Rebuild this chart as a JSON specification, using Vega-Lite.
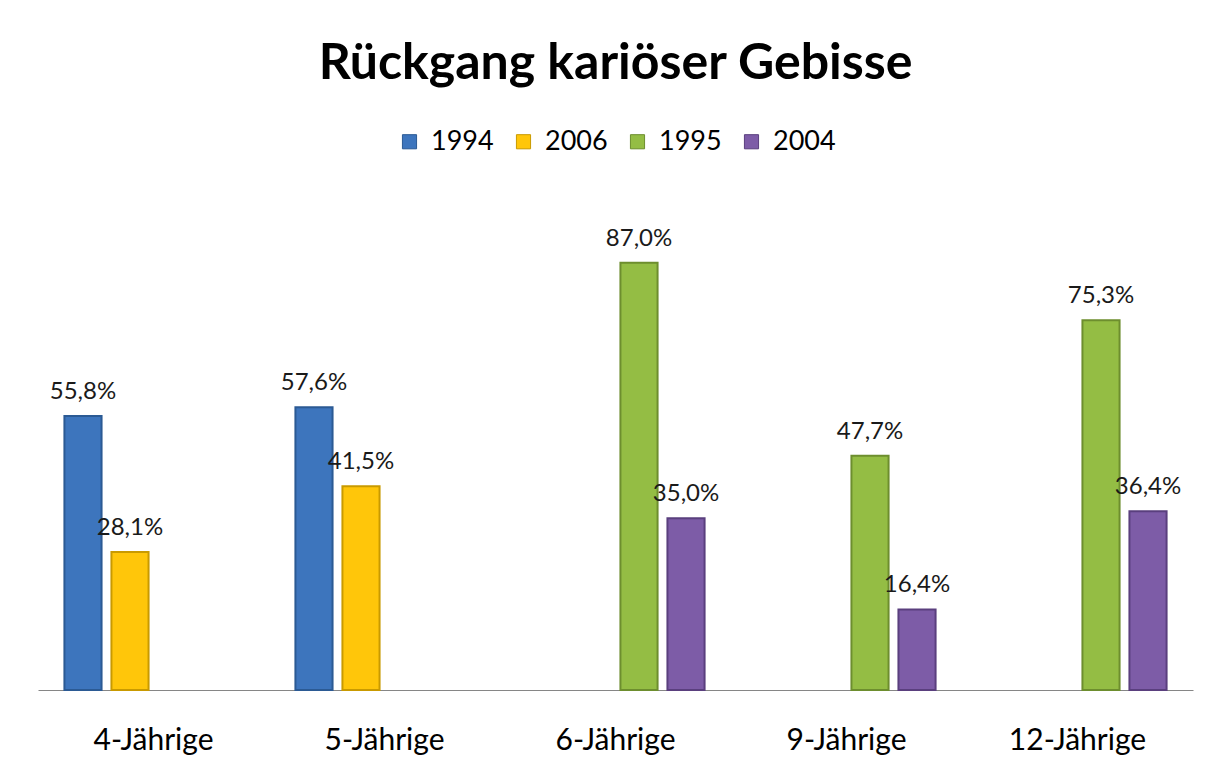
{
  "$schema": "https://vega.github.io/schema/vega-lite/v6.json",
  "autosize": {"type": "none"},
  "width": 1155,
  "height": 491,
  "padding": {"left": 38, "top": 199, "right": 25, "bottom": 91},
  "background": "white",
  "title": {
    "text": "Rückgang kariöser Gebisse",
    "font": "Lato",
    "fontSize": 50,
    "fontWeight": "bold",
    "color": "#000000",
    "anchor": "middle",
    "baseline": "alphabetic",
    "offset": -1
  },
  "config": {
    "locale": {"number": {"decimal": ",", "thousands": ".", "grouping": [3], "currency": ["", " €"]}},
    "view": {"stroke": null},
    "font": "Lato"
  },
  "data": {
    "values": [
      {"group": "4-Jährige", "year": "1994", "value": 0.558},
      {"group": "4-Jährige", "year": "2006", "value": 0.281},
      {"group": "5-Jährige", "year": "1994", "value": 0.576},
      {"group": "5-Jährige", "year": "2006", "value": 0.415},
      {"group": "6-Jährige", "year": "1995", "value": 0.870},
      {"group": "6-Jährige", "year": "2004", "value": 0.350},
      {"group": "9-Jährige", "year": "1995", "value": 0.477},
      {"group": "9-Jährige", "year": "2004", "value": 0.164},
      {"group": "12-Jährige", "year": "1995", "value": 0.753},
      {"group": "12-Jährige", "year": "2004", "value": 0.364}
    ]
  },
  "encoding": {
    "x": {
      "field": "group",
      "type": "nominal",
      "sort": ["4-Jährige", "5-Jährige", "6-Jährige", "9-Jährige", "12-Jährige"],
      "scale": {"paddingInner": 0.186, "paddingOuter": 0.093},
      "axis": {
        "title": null,
        "labelAngle": 0,
        "labelFont": "Lato",
        "labelFontSize": 30,
        "labelColor": "#000000",
        "labelBaseline": "alphabetic",
        "labelPadding": 59,
        "ticks": false,
        "tickSize": 0,
        "domainColor": "#868686",
        "domainWidth": 1,
        "grid": false
      }
    },
    "xOffset": {
      "field": "year",
      "type": "nominal",
      "scale": {"domain": ["1994", "2006", "1995", "2004"], "paddingInner": 0.21, "paddingOuter": 0.105}
    },
    "y": {
      "field": "value",
      "type": "quantitative",
      "scale": {"domain": [0, 1], "nice": false},
      "axis": null
    }
  },
  "layer": [
    {
      "mark": {"type": "bar", "strokeWidth": 2},
      "encoding": {
        "fill": {
          "field": "year",
          "type": "nominal",
          "scale": {"domain": ["1994", "2006", "1995", "2004"], "range": ["#3D75BD", "#FFC60A", "#94BD44", "#7D5CA7"]},
          "legend": {
            "title": null,
            "orient": "none",
            "direction": "horizontal",
            "columns": 4,
            "legendX": 358,
            "legendY": -71,
            "symbolType": "square",
            "symbolSize": 200,
            "symbolStrokeWidth": 1,
            "labelFont": "Lato",
            "labelFontSize": 27,
            "labelColor": "#000000",
            "labelOffset": 8,
            "columnPadding": 16
          }
        },
        "stroke": {
          "field": "year",
          "type": "nominal",
          "scale": {"domain": ["1994", "2006", "1995", "2004"], "range": ["#2B5A94", "#C99A00", "#6D8E2E", "#5A3F7E"]},
          "legend": null
        }
      }
    },
    {
      "mark": {"type": "text", "baseline": "alphabetic", "dy": -17, "font": "Lato", "fontSize": 24, "color": "#1a1a1a"},
      "encoding": {
        "text": {"field": "value", "type": "quantitative", "format": ".1%"}
      }
    }
  ]
}
